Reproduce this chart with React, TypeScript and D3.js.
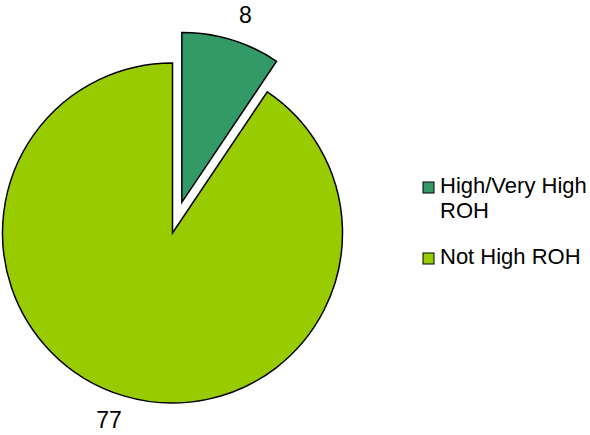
import React from "react";
import * as d3 from "d3";

const categories = ["High/Very High ROH", "Not High ROH"];
const values = [8, 77];
const colors = ["#339966", "#99CC00"];
const legendLines = [["High/Very High", "ROH"], ["Not High ROH"]];
const exploded = [true, false];

export default function App() {
  const W = 590, H = 435;
  const cx = 172.5, cy = 233, R = 170, explode = 32, labelRx = 218, labelRy = 196;
  const pie = d3.pie<number>().sort(null).startAngle(0).endAngle(2 * Math.PI);
  const arcs = pie(values);
  const arc = d3.arc<d3.PieArcDatum<number>>().innerRadius(0).outerRadius(R);

  const legendX = 423, legendY = [182, 253];

  return (
    <svg width={W} height={H} style={{ position: "absolute", left: 0, top: 0, background: "#fff" }}
      fontFamily="'Liberation Sans', Arial, sans-serif">
      {arcs.map((a, i) => {
        const mid = (a.startAngle + a.endAngle) / 2;
        const off = exploded[i] ? explode : 0;
        const ox = cx + off * Math.sin(mid);
        const oy = cy - off * Math.cos(mid);
        const lx = ox + labelRx * Math.sin(mid);
        const ly = oy - labelRy * Math.cos(mid);
        return (
          <g key={categories[i]}>
            <path d={arc(a) || ""} transform={`translate(${ox},${oy})`} fill={colors[i]}
              stroke="#000" strokeWidth={1.5} strokeLinejoin="miter" />
            <text x={lx} y={ly} textAnchor="middle" dominantBaseline="central" fontSize={23} fill="#000">
              {values[i]}
            </text>
          </g>
        );
      })}
      {categories.map((c, i) => (
        <g key={"lg" + c}>
          <rect x={legendX} y={legendY[i]} width={11} height={11} fill={colors[i]} stroke="#000" strokeWidth={1} />
          {legendLines[i].map((t, j) => (
            <text key={t} x={440} y={legendY[i] + 11 + j * 25} fontSize={22} fill="#000">{t}</text>
          ))}
        </g>
      ))}
    </svg>
  );
}
